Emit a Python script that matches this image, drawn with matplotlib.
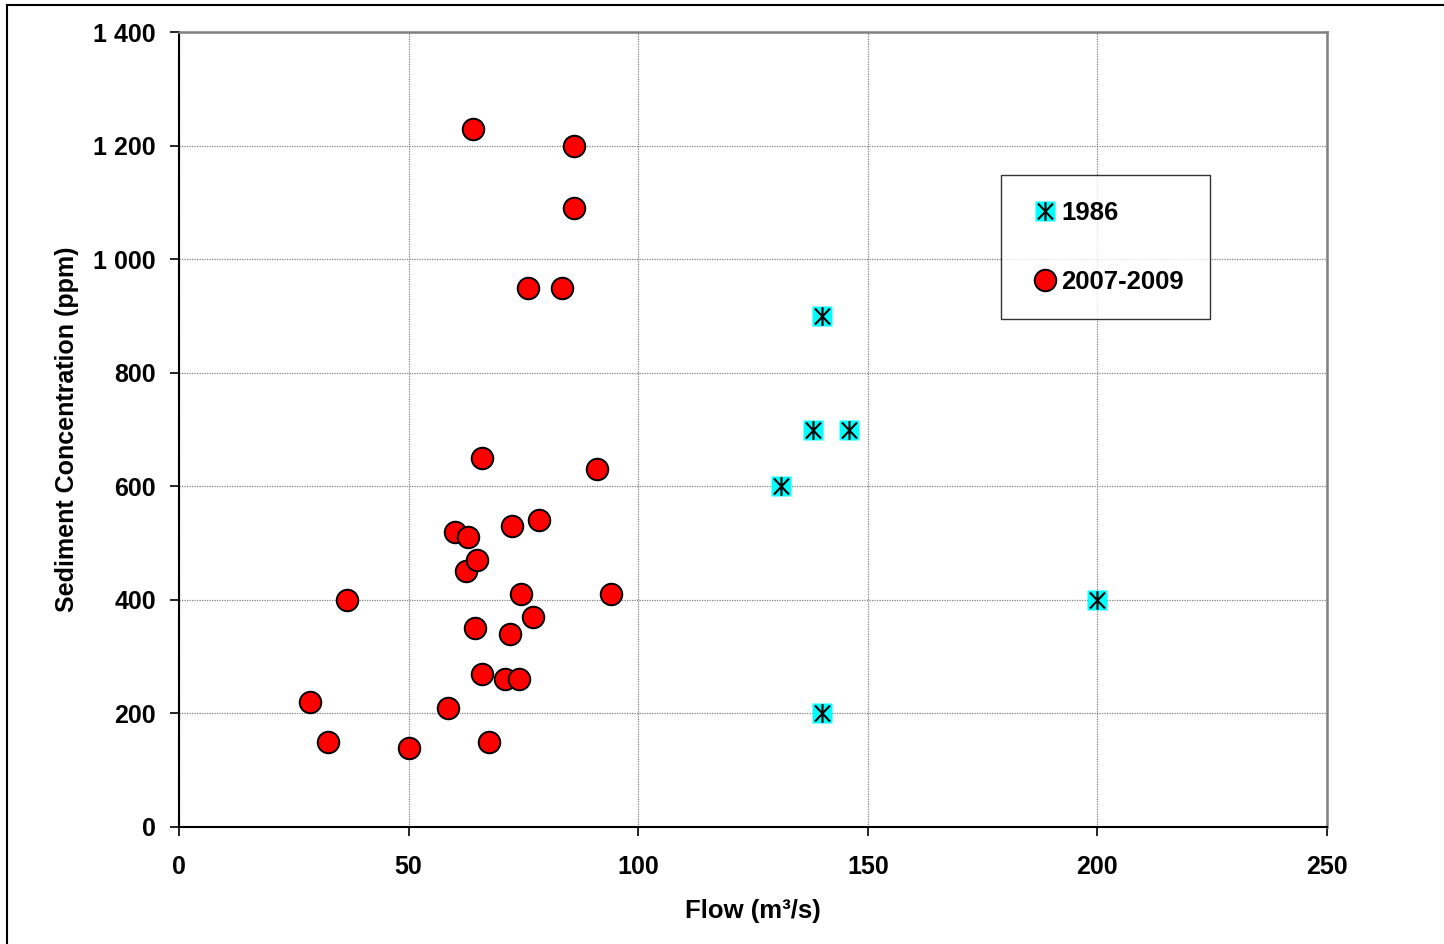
import matplotlib
matplotlib.use("Agg")
import matplotlib.pyplot as plt
from matplotlib.path import Path
from matplotlib.patches import Rectangle
from matplotlib.ticker import FuncFormatter

plt.rcParams['font.family'] = ['Liberation Sans', 'DejaVu Sans']
plt.rcParams['font.weight'] = 'bold'

# Data
flow_1986 = [140, 138, 146, 131, 200, 140]
conc_1986 = [900, 700, 700, 600, 400, 200]

flow_2007 = [64, 86, 86, 76, 83.5, 66, 91, 60, 63, 72.5, 78.5, 62.5, 65, 36.5,
             74.5, 94, 64.5, 77, 72, 66, 71, 74, 28.5, 58.5, 32.5, 50, 67.5]
conc_2007 = [1230, 1200, 1090, 950, 950, 650, 630, 520, 510, 530, 540, 450, 470, 400,
             410, 410, 350, 370, 340, 270, 260, 260, 220, 210, 150, 140, 150]

x_ticks = [0, 50, 100, 150, 200, 250]
y_ticks = [0, 200, 400, 600, 800, 1000, 1200, 1400]

W, H = 1444, 944
fig = plt.figure(figsize=(W / 100, H / 100), dpi=100)
ax = fig.add_axes([179 / W, 1 - 827 / H, (1327 - 179) / W, (827 - 32) / H])

# figure border (left/top visible)
fig.patches.append(Rectangle((7 / W, -0.05), 1.2, 1 - 5 / H + 0.05, transform=fig.transFigure,
                             fill=False, edgecolor='black', linewidth=1.5, zorder=0))

ast_path = Path([(0, -1), (0, 1), (-0.8, -0.85), (0.8, 0.85), (-0.8, 0.85), (0.8, -0.85)],
                [Path.MOVETO, Path.LINETO, Path.MOVETO, Path.LINETO, Path.MOVETO, Path.LINETO])

sq, = ax.plot(flow_1986, conc_1986, linestyle='none', marker='s', markersize=14.5,
              markerfacecolor='#00FFFF', markeredgecolor='none', zorder=3)
ast, = ax.plot(flow_1986, conc_1986, linestyle='none', marker=ast_path, markersize=13.5,
               markerfacecolor='none', markeredgecolor='black', markeredgewidth=1.5, zorder=4)
circ, = ax.plot(flow_2007, conc_2007, linestyle='none', marker='o', markersize=15.5,
                markerfacecolor='#FF0000', markeredgecolor='black', markeredgewidth=1.4, zorder=3)

ax.set_xlim(0, 250)
ax.set_ylim(0, 1400)
ax.set_xticks(x_ticks)
ax.set_yticks(y_ticks)
ax.yaxis.set_major_formatter(FuncFormatter(lambda v, p: f"{int(v):,}".replace(",", " ")))

ax.grid(True, color='#808080', linestyle=(0, (1, 1)), linewidth=0.9, zorder=1)
ax.set_axisbelow(True)

for s in ['left', 'bottom']:
    ax.spines[s].set_color('black')
    ax.spines[s].set_linewidth(1.5)
for s in ['top', 'right']:
    ax.spines[s].set_color('#808080')
    ax.spines[s].set_linewidth(1.8)

ax.tick_params(axis='both', direction='out', length=6.5, width=1.2, color='black',
               labelsize=18)
ax.tick_params(axis='y', pad=10)
ax.tick_params(axis='x', pad=14)
for lab in ax.get_xticklabels() + ax.get_yticklabels():
    lab.set_fontweight('bold')

ax.set_xlabel('Flow (m³/s)', fontsize=18.5, fontweight='bold', va='center')
ax.xaxis.set_label_coords(0.5, -0.106)
ax.set_ylabel('Sediment Concentration (ppm)', fontsize=18, fontweight='bold', va='center', ha='center')
ax.yaxis.set_label_coords(-0.0976, 0.5)

leg = ax.legend([(sq, ast), circ], ['1986', '2007-2009'], loc='upper left',
                bbox_to_anchor=(1001 / W, 1 - 175 / H), bbox_transform=fig.transFigure,
                fancybox=False, shadow=False, frameon=True, fontsize=18.5,
                handlelength=1.45, handletextpad=-0.1, labelspacing=1.75,
                borderpad=1.0, borderaxespad=0, numpoints=1)
leg.get_frame().set_edgecolor('black')
leg.get_frame().set_linewidth(1.0)
for t in leg.get_texts():
    t.set_fontweight('bold')

fig.savefig('out.png', dpi=100)
